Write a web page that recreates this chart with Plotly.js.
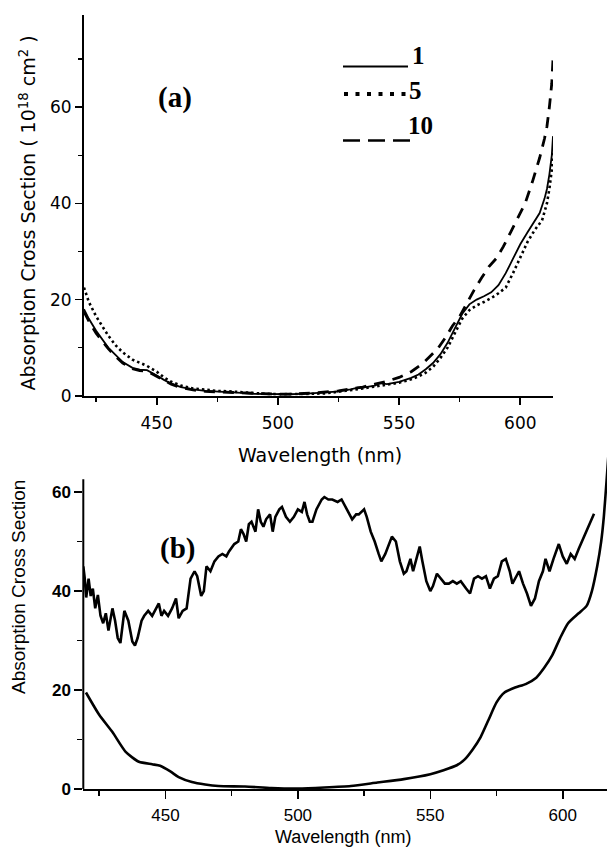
<!DOCTYPE html>
<html>
<head>
<meta charset="utf-8">
<script src="https://cdn.plot.ly/plotly-3.0.1.min.js"></script>
<style>html,body{margin:0;padding:0;background:#fff;}#chart{width:607px;height:849px;}</style>
</head>
<body>
<div id="chart"></div>
<script>
// ---- Panel (a) data ----
const a1X = [420,422,425,428,430,433,436,440,443,446,448,450,453,456,460,465,470,475,480,485,490,495,500,505,510,515,520,525,530,533,535,540,542,545,550,555,558,561,564,567,570,573,576,579,582,585,588,591,594,597,600,603,606,608,610,611,612,613,613.5];
const a1Y = [18,16,13.5,11.5,10,8.5,7,5.8,5.4,5.3,4.8,4.2,3.3,2.5,1.8,1.3,1.0,0.9,0.8,0.6,0.4,0.35,0.3,0.3,0.4,0.5,0.7,0.9,1.3,1.7,1.7,2.1,2.6,2.4,2.9,3.7,4.4,5.5,6.8,8.6,11,14,17,19,20,20.7,21.5,23,25.5,28.5,31.5,34,36.5,38,41,43,46,50,54];

const a5X = [420,422,425,428,430,433,436,440,443,446,450,453,456,460,465,470,475,480,485,490,495,500,505,510,515,520,525,530,535,540,545,550,555,558,561,564,567,570,573,576,579,582,585,588,591,594,597,600,603,606,609,611,612,613,613.5];
const a5Y = [22.5,19.5,16.5,14,12.5,10.5,9,7.5,6.8,6.2,5,3.8,2.9,2.1,1.5,1.2,1.0,0.9,0.7,0.5,0.4,0.3,0.3,0.3,0.4,0.5,0.8,1.1,1.5,1.9,2.3,2.7,3.4,4.0,4.8,6,7.8,10,13,16,17.8,18.8,19.5,20.3,21.3,22.5,25.5,28.8,32,34.5,36.5,40,43,47,51];

const a10X = [420,422,425,428,430,433,436,440,443,446,450,453,456,460,465,470,475,480,485,490,495,500,505,510,515,520,525,530,535,540,545,550,555,560,563,566,569,572,575,578,581,584,587,590,593,596,599,602,605,608,610,611,612,613,613.5];
const a10Y = [17.5,15.5,13,11,9.8,8.2,6.8,5.6,5.2,5.1,4.0,3.1,2.4,1.7,1.2,0.9,0.8,0.7,0.5,0.4,0.3,0.3,0.3,0.4,0.6,0.8,1.0,1.4,1.8,2.4,3.0,3.8,5.0,6.8,8.2,9.8,12,14.5,16.5,19.3,22,24.5,26.8,28.5,31,34,37,40,44.5,49.5,53.5,56,60,65,70];

const legendLabels = ["1", "5", "10"];

// ---- Panel (b) data ----
const bUpperX = [419,419.5,420.1,421,421.8,422.6,423.5,424.5,425.5,426.5,427.5,428.5,430,431,432,433,434.5,436,437.5,438.5,439.5,441,442,443.5,445,446,447.5,448.5,449.5,451,452.5,454,455,456.5,458,459.5,461,462,463.5,464.5,465.5,467,468.5,470,471.5,473,474,476,477.5,478.5,479.5,480.5,481.5,482.5,484,485,486,487,488,489.5,490.5,491.5,493,494,495.5,497,498.5,500,501.5,502.5,503.5,504.5,505.5,507,509,510,511.5,513,515,516.5,518,519.5,520.5,522,523,525,526,527.5,529,530.5,531.5,533,534.5,535.5,537,538.5,540,541,542.5,543.5,545,546,547,548.5,550,551,552.5,554,555.5,557,558.5,560,561.5,563.5,565,566.5,568,569.5,571,572.5,574,575.5,577,578.5,580,581,582.5,583.5,585,586.5,588,589.5,591,592.5,593.5,595,596.5,597.5,598.5,600,601.5,603,604.5,606,608,610,611.8];
const bUpperY = [45,42.8,38.7,42.5,39,40.5,36.5,39.2,35,33.5,35.5,32,36.5,34,30.5,29.5,36,34,29.8,29,30.5,34,35,36,35,36,37.5,35,36,35,36.5,38.5,34.5,36,36.5,42.5,44,43,39,40,45,44,46,47,47.5,47,48,49.5,50,52.5,51.5,50,53.5,54,52,56.5,54,53,54.5,55.5,52,55,56.5,57,55,54,55,56.5,56,58,55.5,54,54,56.5,58.5,59,58.5,58.5,58,58.5,57,55.5,54.5,55.5,55.5,56.5,55,52,50,47.5,46,47.5,49.5,51,50,46,43.5,44,46.5,44,47,49,46,42,40,41,43.5,42.5,41.5,41.5,42,41.5,42,40.5,39.5,42.5,43,42.5,43,40.5,42.5,43,46,46.5,44,41.5,43,44,41.5,39.5,37,38.5,42,44,46.5,44,46.5,48,49.5,47,45.5,47.5,46.5,48.5,51,53.5,55.6];

const bLowerX = [420,425,430,435,440,445,448,452,455,460,465,470,480,490,500,510,520,530,540,550,555,560,563,566,569,572,575,578,582,586,590,593,596,599,602,606,609,611,613,614.5,615.5,616.5,617.3];
const bLowerY = [19.5,15,11.5,7.5,5.5,5,4.7,3.5,2.4,1.4,0.9,0.6,0.5,0.2,0.1,0.3,0.6,1.3,2.0,3.0,3.8,4.8,6,8,10.5,14,17.5,19.5,20.5,21.2,22.5,24.5,27,30.5,33.5,35.5,37,40,45,50,55,62,68];

const xTicks = [450, 500, 550, 600];
const xMinor = [425, 475, 525, 575];
const yTicksA = [0, 20, 40, 60];
const yMinorA = [10, 30, 50, 70];
const yTicksB = [0, 20, 40, 60];
const yMinorB = [10, 30, 50];

const W = 607, H = 849;
const px = x => x / W;
const py = y => 1 - y / H;

const traces = [
  {x: a1X, y: a1Y, xaxis: 'x', yaxis: 'y', mode: 'lines', line: {color: '#000', width: 1.8}, name: legendLabels[0]},
  {x: a5X, y: a5Y, xaxis: 'x', yaxis: 'y', mode: 'lines', line: {color: '#000', width: 2.6, dash: '2.5px,3px'}, name: legendLabels[1]},
  {x: a10X, y: a10Y, xaxis: 'x', yaxis: 'y', mode: 'lines', line: {color: '#000', width: 2.8, dash: '11px,8px'}, name: legendLabels[2]},
  {x: bUpperX, y: bUpperY, xaxis: 'x2', yaxis: 'y2', mode: 'lines', line: {color: '#000', width: 2.6}},
  {x: bLowerX, y: bLowerY, xaxis: 'x2', yaxis: 'y2', mode: 'lines', line: {color: '#000', width: 2.6, shape: 'spline', smoothing: 0.6}}
];

const tickFontA = {family: 'DejaVu Sans', size: 17, color: '#000'};
const tickFontB = {family: 'Liberation Sans', size: 17, color: '#000'};

const axisCommon = {
  showgrid: false, zeroline: false, showline: true, linecolor: '#000', linewidth: 2,
  ticks: 'outside', ticklen: 7, tickwidth: 1.6, tickcolor: '#000', automargin: false,
  tickmode: 'array'
};

const layout = {
  width: W, height: H,
  margin: {l: 0, r: 0, t: 0, b: 0},
  paper_bgcolor: '#fff', plot_bgcolor: 'rgba(0,0,0,0)',
  showlegend: false,
  xaxis: Object.assign({}, axisCommon, {
    domain: [px(84), px(553)], range: [420, 613.5], anchor: 'y',
    tickvals: xTicks, tickfont: tickFontA, ticklabelstandoff: 4,
    minor: {tickmode: 'array', tickvals: xMinor, ticks: 'outside', ticklen: 4, tickwidth: 1.6, tickcolor: '#000'}
  }),
  yaxis: Object.assign({}, axisCommon, {
    domain: [py(395.7), py(15)], range: [0, 79.2], anchor: 'x',
    tickvals: yTicksA, tickfont: tickFontA,
    minor: {tickmode: 'array', tickvals: yMinorA, ticks: 'outside', ticklen: 4, tickwidth: 1.6, tickcolor: '#000'}
  }),
  xaxis2: Object.assign({}, axisCommon, {
    domain: [px(83.3), 1], range: [419, 616.7], anchor: 'y2',
    tickvals: xTicks, tickfont: tickFontB, ticklen: 8, ticklabelstandoff: 2,
    minor: {tickmode: 'array', tickvals: xMinor, ticks: 'outside', ticklen: 5, tickwidth: 1.6, tickcolor: '#000'}
  }),
  yaxis2: Object.assign({}, axisCommon, {
    domain: [py(789), py(450)], range: [0, 68.5], anchor: 'x2', showline: false,
    tickvals: yTicksB, ticklen: 8,
    tickfont: {family: 'Liberation Sans', size: 17, color: '#000', weight: 'bold'},
    minor: {tickmode: 'array', tickvals: yMinorB, ticks: 'outside', ticklen: 5, tickwidth: 1.6, tickcolor: '#000'}
  }),
  shapes: [
    {type: 'line', xref: 'x2 domain', yref: 'y2', x0: 0, x1: 0, y0: 0, y1: 62.6, line: {color: '#000', width: 2}},
    {type: 'line', xref: 'paper', yref: 'paper', x0: px(343), x1: px(408), y0: py(66.5), y1: py(66.5), line: {color: '#000', width: 2}},
    {type: 'line', xref: 'paper', yref: 'paper', x0: px(344), x1: px(410), y0: py(94), y1: py(94), line: {color: '#000', width: 4, dash: '4px,7.5px'}},
    {type: 'line', xref: 'paper', yref: 'paper', x0: px(343), x1: px(410), y0: py(140.5), y1: py(140.5), line: {color: '#000', width: 2.6, dash: '17px,8px'}}
  ],
  annotations: [
    {xref: 'paper', yref: 'paper', x: px(320), y: py(455), text: 'Wavelength (nm)', showarrow: false,
     font: {family: 'DejaVu Sans', size: 19, color: '#000'}, xanchor: 'center', yanchor: 'middle'},
    {xref: 'paper', yref: 'paper', x: px(27.5), y: py(213), text: 'Absorption Cross Section ( 10<sup>18</sup> cm<sup>2</sup> )', showarrow: false, textangle: -90,
     font: {family: 'DejaVu Sans', size: 19, color: '#000'}, xanchor: 'center', yanchor: 'middle'},
    {xref: 'paper', yref: 'paper', x: px(343), y: py(837), text: 'Wavelength (nm)', showarrow: false,
     font: {family: 'Liberation Sans', size: 18, color: '#000'}, xanchor: 'center', yanchor: 'middle'},
    {xref: 'paper', yref: 'paper', x: px(18), y: py(587), text: 'Absorption Cross Section', showarrow: false, textangle: -90,
     font: {family: 'Liberation Sans', size: 19, color: '#000'}, xanchor: 'center', yanchor: 'middle'},
    {xref: 'paper', yref: 'paper', x: px(175), y: py(97), text: '<b>(a)</b>', showarrow: false,
     font: {family: 'Liberation Serif', size: 29, color: '#000'}, xanchor: 'center', yanchor: 'middle'},
    {xref: 'paper', yref: 'paper', x: px(177), y: py(548), text: '<b>(b)</b>', showarrow: false,
     font: {family: 'Liberation Serif', size: 29, color: '#000'}, xanchor: 'center', yanchor: 'middle'},
    {xref: 'paper', yref: 'paper', x: px(410), y: py(55), text: '<b>' + legendLabels[0] + '</b>', showarrow: false,
     font: {family: 'Liberation Serif', size: 25, color: '#000'}, xanchor: 'left', yanchor: 'middle'},
    {xref: 'paper', yref: 'paper', x: px(407), y: py(91), text: '<b>' + legendLabels[1] + '</b>', showarrow: false,
     font: {family: 'Liberation Serif', size: 25, color: '#000'}, xanchor: 'left', yanchor: 'middle'},
    {xref: 'paper', yref: 'paper', x: px(406), y: py(126), text: '<b>' + legendLabels[2] + '</b>', showarrow: false,
     font: {family: 'Liberation Serif', size: 25, color: '#000'}, xanchor: 'left', yanchor: 'middle'}
  ]
};

Plotly.newPlot('chart', traces, layout, {staticPlot: true, displayModeBar: false});
</script>
</body>
</html>
